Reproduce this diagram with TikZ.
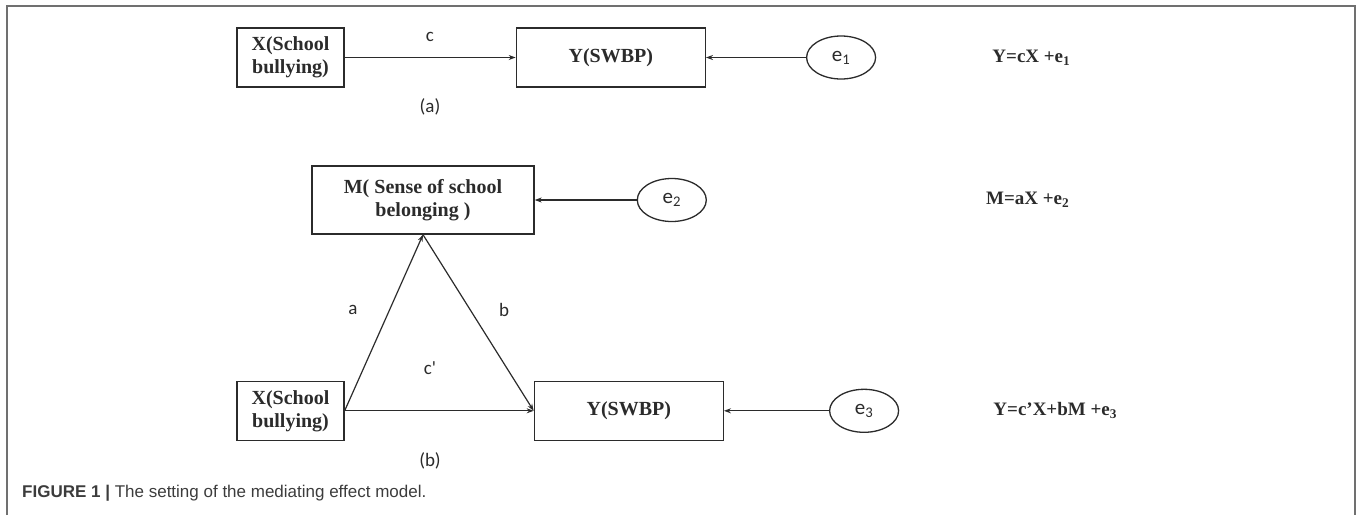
\documentclass[tikz,border=0pt]{standalone}
\usepackage{fontspec}
\setmainfont{Liberation Serif}
\newfontfamily\lblfont{Carlito}
\newfontfamily\capfont{Liberation Sans}
\usepackage{xcolor}
\usetikzlibrary{positioning,arrows.meta,shapes.geometric}

\definecolor{framegray}{HTML}{707070}
\definecolor{linegray}{HTML}{2B2B2B}
\definecolor{capgray}{HTML}{3C3C3C}

\begin{document}
\begin{tikzpicture}[
    x=1pt,
    y=-1pt,
    >={Stealth[length=7pt,width=5pt]},
    every node/.style={align=center, inner sep=0pt, text=linegray},
    varbox/.style={draw=linegray, line width=1.3pt, minimum height=59pt,
        font=\bfseries\fontsize{20}{23}\selectfont},
    errnode/.style={draw=linegray, ellipse, line width=1.3pt,
        minimum width=69pt, minimum height=43pt,
        font=\lblfont\fontsize{21}{21}\selectfont},
    lbl/.style={font=\lblfont\fontsize{19}{19}\selectfont},
    eqn/.style={anchor=west, font=\bfseries\fontsize{19}{19}\selectfont},
    link/.style={->, line width=1.2pt, draw=linegray}
]

\useasboundingbox (0,0) rectangle (1357,515);

% Frame
\draw[framegray, line width=2pt] (7,515) -- (7,6) -- (1355,6) -- (1355,515);

% Model (a)
\node[varbox, minimum width=107pt] (xa) at (290.5,57.5) {X(School\\bullying)};

\node[varbox, minimum width=189pt, right=171pt of xa] (ya) {Y(SWBP)};

\node[errnode, right=100pt of ya] (e1) {e\textsubscript{1}};

\node[eqn, right=116pt of e1] (eq1) {Y=cX +e\textsubscript{1}};

\node[lbl] (lc) at (430,37) {c};
\node[lbl] (tagA) at (430,107) {(a)};

\draw[link] (xa) -- (ya);
\draw[link] (e1) -- (ya);

% Model (b)
\node[varbox, minimum width=222pt, minimum height=68pt] (m) at (423,200)
    {M( Sense of school\\belonging )};

\node[errnode, right=102pt of m] (e2) {e\textsubscript{2}};

\node[eqn, right=279pt of e2] (eq2) {M=aX +e\textsubscript{2}};

\node[varbox, minimum width=107pt, below=293pt of xa] (xb) {X(School\\bullying)};

\node[varbox, minimum width=189pt, right=189pt of xb] (yb) {Y(SWBP)};

\node[errnode, right=105pt of yb] (e3) {e\textsubscript{3}};

\node[eqn, right=94pt of e3] (eq3) {Y=c'X+bM +e\textsubscript{3}};

\node[lbl] (la) at (353,310) {a};
\node[lbl] (lb) at (504,310) {b};
\node[lbl] (lcp) at (430,368) {c'};
\node[lbl] (tagB) at (430,461) {(b)};

\draw[link] (xb.east) -- (m.south);
\draw[link] (m.south) -- (yb.west);
\draw[link] (xb) -- (yb);
\draw[link] (e2) -- (m);
\draw[link] (e3) -- (yb);

% Caption
\node[anchor=base west, text=capgray, font=\capfont\fontsize{17}{19}\selectfont]
    (cap) at (22,497) {{\bfseries FIGURE 1 |} The setting of the mediating effect model.};

\end{tikzpicture}
\end{document}
